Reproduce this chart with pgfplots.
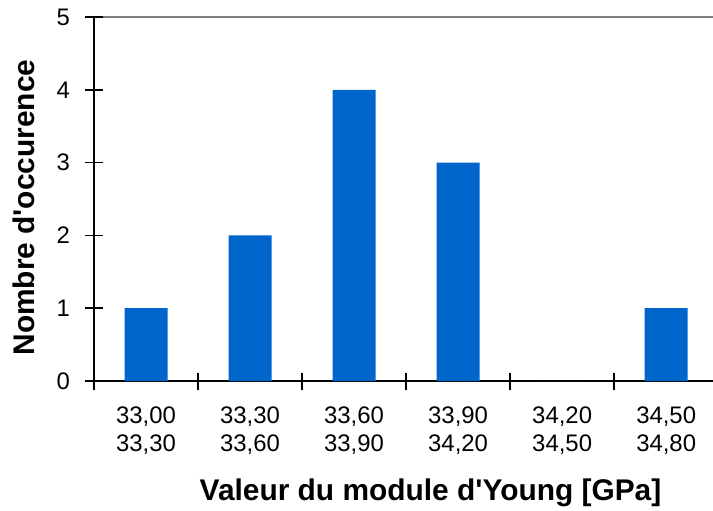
\documentclass[border=0pt]{standalone}
\usepackage{fontspec}
\setmainfont{Liberation Sans}
\usepackage{pgfplots}
\pgfplotsset{compat=1.18}
\definecolor{barblue}{HTML}{0066CC}
\begin{document}
\begin{tikzpicture}
\useasboundingbox (-94bp,-130bp) rectangle (619bp,381bp);
\begin{axis}[
  at={(0,0)}, anchor=south west,
  scale only axis,
  width=619bp, height=364bp,
  xmin=-0.5, xmax=5.45,
  ymin=0, ymax=5,
  axis lines=left,
  axis line style={line width=1.6bp, -},
  ytick={0,1,2,3,4,5},
  xtick={-0.5,0.5,1.5,2.5,3.5,4.5},
  xticklabels={{33,00\\33,30},{33,30\\33,60},{33,60\\33,90},{33,90\\34,20},{34,20\\34,50},{34,50\\34,80}},
  tick align=center,
  major tick length=17bp,
  tick style={line width=1.6bp, black},
  ticklabel style={font=\fontsize{24}{28}\selectfont},
  xticklabel style={align=center, xshift=52bp, yshift=-14bp},
  yticklabel style={xshift=-12bp},
  /pgf/number format/assume math mode=true,
  extra y ticks={5},
  extra y tick labels={},
  extra y tick style={grid=major, major grid style={gray, line width=1.2bp}},
  xlabel={Valeur du module d\textquotesingle Young [GPa]},
  ylabel={Nombre d\textquotesingle occurence},
  label style={font=\fontsize{30}{34}\selectfont\bfseries},
  xlabel style={at={(axis description cs:0.5436,-0.3077)}, anchor=center},
  ylabel style={at={(axis description cs:-0.1131,0.4766)}, anchor=center, rotate=0},
  clip=false,
]
\addplot[ybar, bar width=43bp, fill=barblue, draw=none, bar shift=0pt]
  coordinates {(0,1) (1,2) (2,4) (3,3) (4,0) (5,1)};
\end{axis}
\end{tikzpicture}
\end{document}
